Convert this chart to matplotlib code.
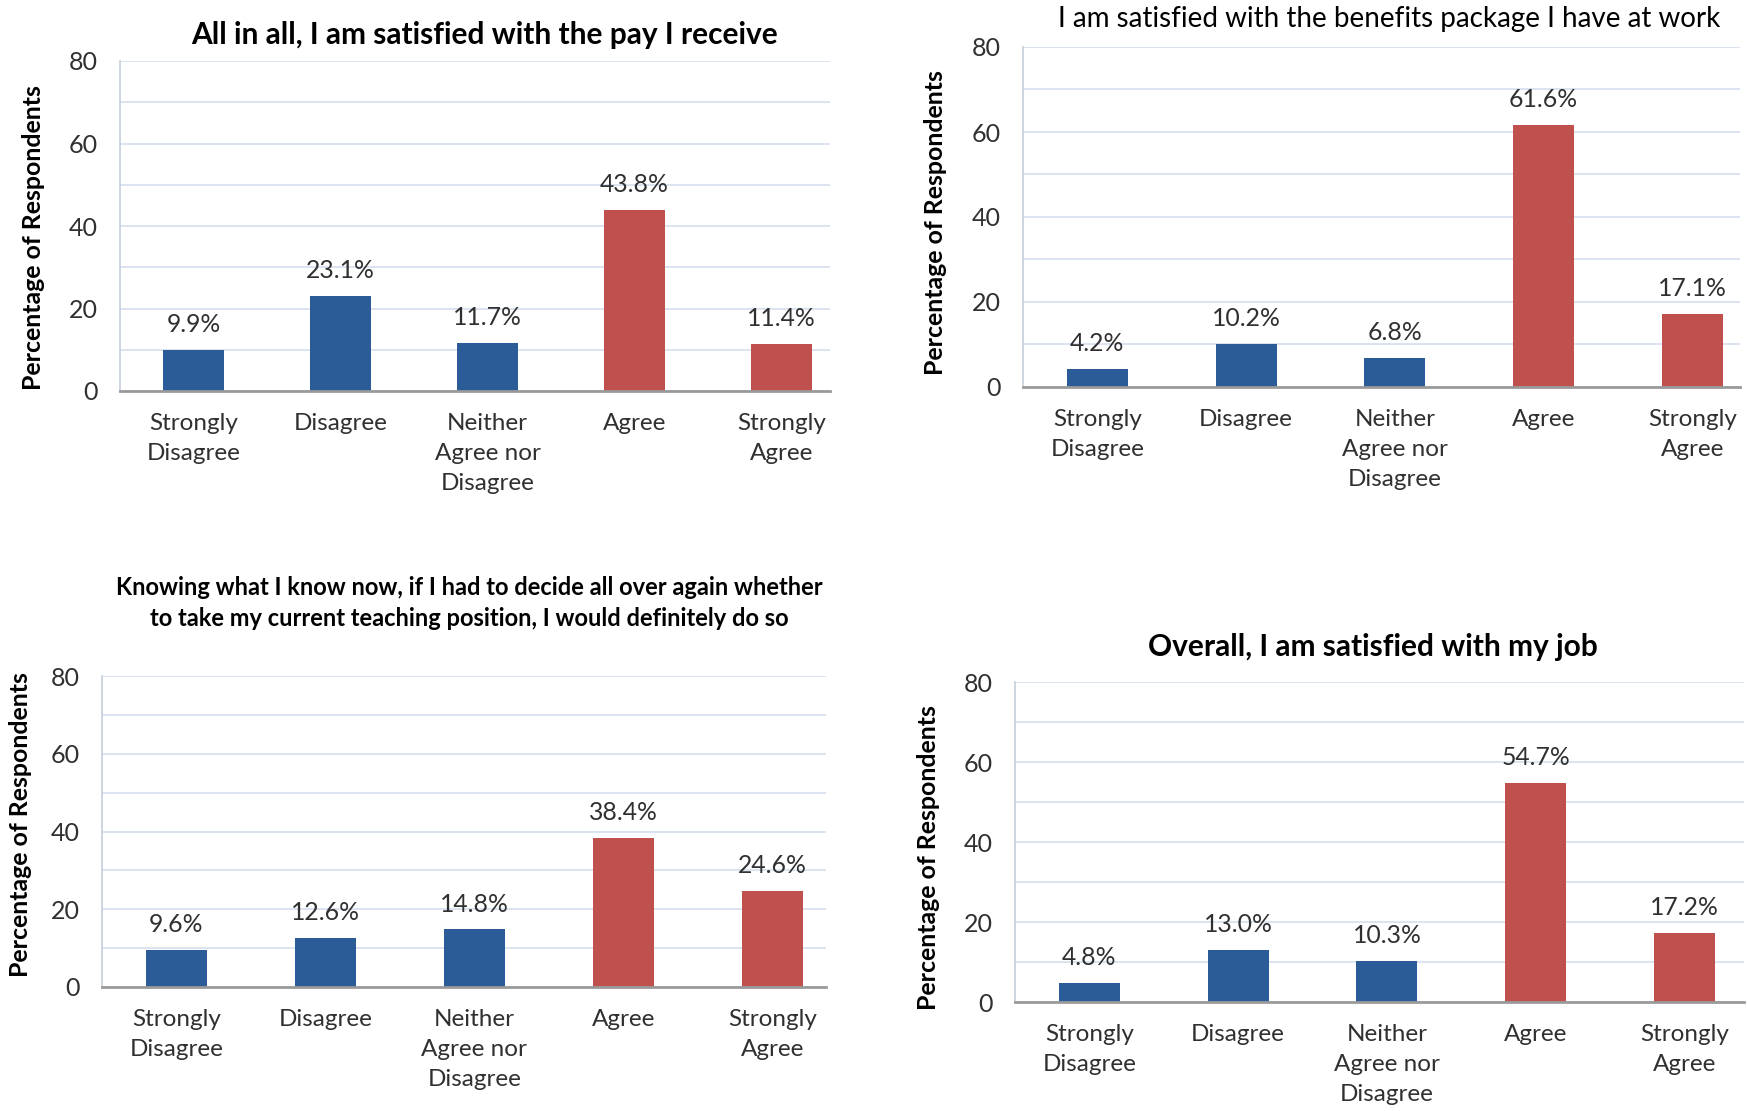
import matplotlib
matplotlib.use("Agg")
import matplotlib.pyplot as plt
from matplotlib.ticker import MultipleLocator

plt.rcParams['font.family'] = ['Lato', 'DejaVu Sans']

categories = ["Strongly\nDisagree", "Disagree", "Neither\nAgree nor\nDisagree",
              "Agree", "Strongly\nAgree"]

pay_values = [9.9, 23.1, 11.7, 43.8, 11.4]
benefits_values = [4.2, 10.2, 6.8, 61.6, 17.1]
decide_again_values = [9.6, 12.6, 14.8, 38.4, 24.6]
overall_values = [4.8, 13.0, 10.3, 54.7, 17.2]

titles = [
    "All in all, I am satisfied with the pay I receive",
    "I am satisfied with the benefits package I have at work",
    "Knowing what I know now, if I had to decide all over again whether\n"
    "to take my current teaching position, I would definitely do so",
    "Overall, I am satisfied with my job",
]

y_ticks = [0, 20, 40, 60, 80]
ylabel = "Percentage of Respondents"

BLUE = "#2C5C97"
RED = "#C0504D"
bar_colors = [BLUE, BLUE, BLUE, RED, RED]
GRID = "#D8E2EF"
TEXT = "#303030"

W, H = 1747, 1111
fig = plt.figure(figsize=(W / 100, H / 100), dpi=100)


def box(left, right, top, bottom):
    return [left / W, 1 - bottom / H, (right - left) / W, (bottom - top) / H]


panels = [
    dict(values=pay_values, rect=box(120, 830, 61, 391), xmax=4.33,
         title_xy=(485, 35), title_size=21.5, title_weight="bold",
         ylabel_xy=(34, 238)),
    dict(values=benefits_values, rect=box(1023, 1740, 47, 387), xmax=4.32,
         title_xy=(1389, 19), title_size=20, title_weight="normal",
         ylabel_xy=(935, 223)),
    dict(values=decide_again_values, rect=box(102, 826, 676, 987), xmax=4.36,
         title_xy=(469, 603), title_size=17, title_weight="bold",
         ylabel_xy=(21, 825)),
    dict(values=overall_values, rect=box(1015, 1744, 682, 1002), xmax=4.40,
         title_xy=(1373, 647), title_size=21.5, title_weight="bold",
         ylabel_xy=(928, 858)),
]

for p, title in zip(panels, titles):
    ax = fig.add_axes(p["rect"])
    x = list(range(len(categories)))
    ax.bar(x, p["values"], width=0.41, color=bar_colors, zorder=3)
    for xi, v in zip(x, p["values"]):
        ax.annotate(f"{v:.1f}%", (xi, v), xytext=(0, 10),
                    textcoords="offset points", ha="center", va="bottom",
                    fontsize=17.8, color=TEXT, zorder=4)
    ax.set_xlim(-0.5, p["xmax"])
    ax.set_ylim(0, 80)
    ax.set_yticks(y_ticks)
    ax.yaxis.set_minor_locator(MultipleLocator(10))
    ax.grid(axis="y", which="both", color=GRID, linewidth=1.3, zorder=0)
    ax.set_axisbelow(True)
    ax.set_xticks(x)
    ax.set_xticklabels(categories, fontsize=17.5, color=TEXT, linespacing=1.52)
    ax.tick_params(axis="x", length=0, pad=16)
    ax.tick_params(axis="y", which="both", length=0, pad=16,
                   labelsize=18, labelcolor=TEXT)
    for s in ("top", "right"):
        ax.spines[s].set_visible(False)
    ax.spines["left"].set_color("#C5CFDC")
    ax.spines["left"].set_linewidth(1.2)
    ax.spines["bottom"].set_color("#9A9A9A")
    ax.spines["bottom"].set_linewidth(2)
    ax.spines["bottom"].set_zorder(5)

    fig.text(p["title_xy"][0] / W, 1 - p["title_xy"][1] / H, title,
             ha="center", va="center", fontsize=p["title_size"],
             fontweight=p["title_weight"], color="black", linespacing=1.45)
    fig.text(p["ylabel_xy"][0] / W, 1 - p["ylabel_xy"][1] / H, ylabel,
             rotation=90, ha="center", va="center", fontsize=17.9,
             fontweight="bold", color="black")

fig.savefig("out.png", dpi=100, facecolor="white")
